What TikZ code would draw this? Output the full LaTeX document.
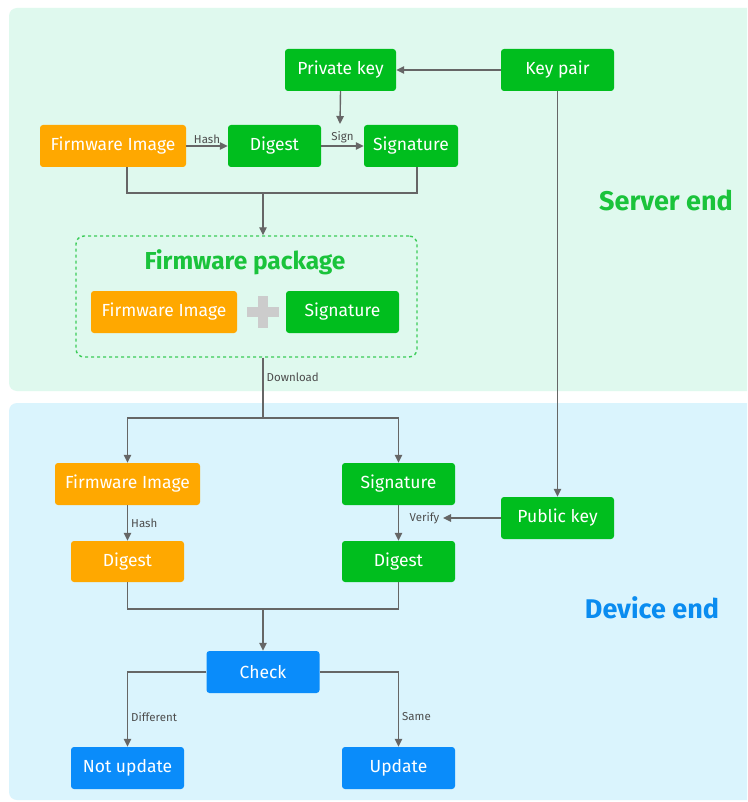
\documentclass[tikz,border=0pt]{standalone}
\usepackage{fontspec}
\setmainfont{Fira Sans}
\usetikzlibrary{arrows.meta,calc}

\definecolor{grn}{HTML}{00BE1E}
\definecolor{org}{HTML}{FFA800}
\definecolor{blu}{HTML}{0A8CFA}
\definecolor{serverbg}{HTML}{DFF9EE}
\definecolor{devicebg}{HTML}{DAF4FD}
\definecolor{titlegrn}{HTML}{1AC33B}
\definecolor{titleblu}{HTML}{0A8CF0}
\definecolor{linec}{HTML}{666666}
\definecolor{lblc}{HTML}{4D4D4D}
\definecolor{plusc}{HTML}{CCCCCC}

\begin{document}
\begin{tikzpicture}[x=1pt,y=-1pt,
  box/.style={rounded corners=3pt, minimum height=42pt, inner sep=0pt,
    text=white, font=\fontsize{17.5}{20}\selectfont},
  gbox/.style={box, fill=grn},
  obox/.style={box, fill=org},
  bbox/.style={box, fill=blu},
  conn/.style={draw=linec, line width=1.4pt},
  flow/.style={conn, -{Triangle[length=8pt,width=7.5pt]}},
  lbl/.style={font=\fontsize{11.5}{13}\selectfont, text=lblc, inner sep=3pt},
  title/.style={font=\bfseries\fontsize{24.5}{28}\selectfont},
  bigtitle/.style={font=\bfseries\fontsize{27}{31}\selectfont}]

\clip (0,0) rectangle (747,802);
\fill[white] (0,0) rectangle (747,802);

% background panels
\fill[serverbg, rounded corners=8pt] (9,8) rectangle (770,391);
\fill[devicebg, rounded corners=8pt] (9,403) rectangle (770,800);

% server end
\node[gbox, minimum width=111pt] (privkey) at (340.5,70) {Private key};
\node[gbox, minimum width=113pt] (keypair) at (557.5,70) {Key pair};
\node[obox, minimum width=146pt] (fw1) at (113,146) {Firmware Image};
\node[gbox, minimum width=93pt] (dig1) at (274.5,146) {Digest};
\node[gbox, minimum width=94pt] (sig1) at (411,146) {Signature};

% firmware package
\node[draw=titlegrn!85, dashed, dash pattern=on 3pt off 3pt, line width=1.4pt,
      rounded corners=8pt, minimum width=341pt, minimum height=121pt]
      (pkg) at (246.5,296.5) {};
\node[title, text=titlegrn] (pkgtitle) at (245,262) {Firmware package};
\node[obox, minimum width=146pt] (fw2) at (164,312) {Firmware Image};
\node[gbox, minimum width=113pt] (sig2) at (342.5,312) {Signature};
\fill[plusc] (247,307) rectangle (279,317);
\fill[plusc] (258,296) rectangle (268,328);

\node[bigtitle, text=titlegrn] (server) at (666,200) {Server end};

% device end
\node[obox, minimum width=145pt] (fw3) at (127.5,484) {Firmware Image};
\node[gbox, minimum width=113pt] (sig3) at (398.5,484) {Signature};
\node[gbox, minimum width=113pt] (pubkey) at (557.5,518) {Public key};
\node[obox, minimum width=113pt, minimum height=41pt] (dig3) at (127.5,561.5) {Digest};
\node[gbox, minimum width=113pt, minimum height=41pt] (dig4) at (398.5,561.5) {Digest};
\node[bbox, minimum width=113pt] (check) at (263,672) {Check};
\node[bbox, minimum width=113pt] (notupd) at (127.5,768) {Not update};
\node[bbox, minimum width=113pt] (upd) at (398.5,768) {Update};

\node[bigtitle, text=titleblu] (device) at (652,608) {Device end};

% junction points
\coordinate (signpt) at (340,124);
\coordinate (jA) at (127,193);
\coordinate (jB) at (417,193);
\coordinate (jC) at (263,193);
\coordinate (dl) at (263,418);
\coordinate (vf) at (443,518);
\coordinate (jD) at (263,609);

% server connectors
\draw[flow] (keypair.west) -- (privkey.east);
\draw[flow] (privkey.south) -- (signpt);
\draw[flow] (fw1.east) -- node[lbl, above, inner sep=2pt] {Hash} (dig1.west);
\draw[flow] (dig1.east) -- node[lbl, above, inner sep=2pt] {Sign} (sig1.west);
\draw[conn] (fw1.south -| jA) -- (jA) -- (jB) -- (sig1.south -| jB);
\draw[flow] (jC) -- (jC |- pkg.north);

% download and device connectors
\draw[conn] (dl |- pkg.south) -- node[lbl, right, pos=0.33] {Download} (dl);
\draw[flow] (dl) -| (fw3.north);
\draw[flow] (dl) -| (sig3.north);
\draw[flow] (keypair.south) -- (pubkey.north);
\draw[flow] (fw3.south) -- node[lbl, right] {Hash} (dig3.north);
\draw[flow] (sig3.south) -- (dig4.north);
\draw[flow] (pubkey.west) -- (vf) node[lbl, left] {Verify};
\draw[conn] (dig3.south) |- (jD) -| (dig4.south);
\draw[flow] (jD) -- (check.north);
\draw[flow] (check.west) -| node[lbl, right, pos=0.8] {Different} (notupd.north);
\draw[flow] (check.east) -| node[lbl, right, pos=0.8] {Same} (upd.north);

\end{tikzpicture}
\end{document}
